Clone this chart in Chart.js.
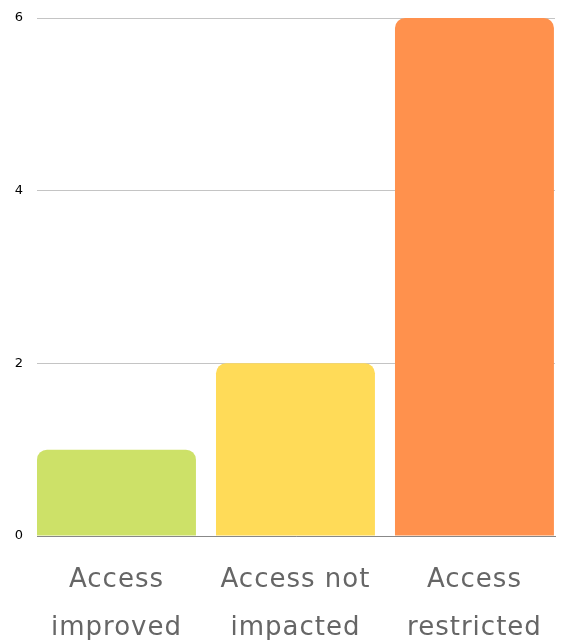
<!DOCTYPE html>
<html>
<head>
<meta charset="utf-8">
<script src="https://cdn.jsdelivr.net/npm/chart.js@4/dist/chart.umd.min.js"></script>
<style>
  html, body { margin: 0; padding: 0; background: #fff; }
  #wrap { width: 563px; height: 640px; }
</style>
</head>
<body>
<div id="wrap"><canvas id="accessChart"></canvas></div>
<script>
// Chart data
const categories = [['Access', 'improved'], ['Access not', 'impacted'], ['Access', 'restricted']];
const counts = [1, 2, 6];
const barColors = ['#cde168', '#ffdb58', '#ff914d'];
const yTicks = [0, 2, 4, 6];

// bars sit on a linear x axis so the category slots can run a bit past the grid
const points = counts.map((v, i) => ({ x: i, y: v }));

// a little letter spacing on the axis text (canvas supports it natively)
const spacingPlugin = {
    id: 'spacing',
    beforeDraw(chart) { chart.ctx.letterSpacing = '1px'; },
    afterDraw(chart) { chart.ctx.letterSpacing = '0px'; },
};

const accessChart = new Chart(document.getElementById('accessChart'), {
    type: 'bar',
    data: {
        datasets: [{
            data: points,
            backgroundColor: barColors,
            borderRadius: { topLeft: 10, topRight: 10 },
            borderSkipped: 'bottom',
            categoryPercentage: 1,
            barPercentage: 0.888,
        }],
    },
    options: {
        responsive: true,
        maintainAspectRatio: false,
        animation: false,
        layout: { padding: { top: 18, right: 8, left: 0, bottom: 0 } },
        plugins: { legend: { display: false }, tooltip: { enabled: false } },
        scales: {
            x: {
                type: 'linear',
                min: -0.444,
                max: 2.45,
                offset: false,
                afterBuildTicks: (s) => { s.ticks = categories.map((c, i) => ({ value: i })); },
                grid: { display: false },
                border: { color: '#888', width: 1 },
                ticks: {
                    color: '#666',
                    font: { family: 'DejaVu Sans', size: 26, lineHeight: 1.85 },
                    padding: 12,
                    maxRotation: 0,
                    autoSkip: false,
                    callback: (v) => categories[v],
                },
                afterFit: (s) => { s.height = 104; },
            },
            y: {
                min: 0,
                max: 6,
                afterBuildTicks: (s) => { s.ticks = yTicks.map(v => ({ value: v })); },
                grid: { color: '#c4c4c4', drawTicks: false },
                border: { display: false },
                ticks: {
                    color: '#000',
                    font: { family: 'DejaVu Sans', size: 13 },
                    padding: 13,
                },
                afterFit: (s) => { s.width = 37; s.paddingTop = 0; s.paddingBottom = 0; },
            },
        },
    },
    plugins: [spacingPlugin],
});
</script>
</body>
</html>
